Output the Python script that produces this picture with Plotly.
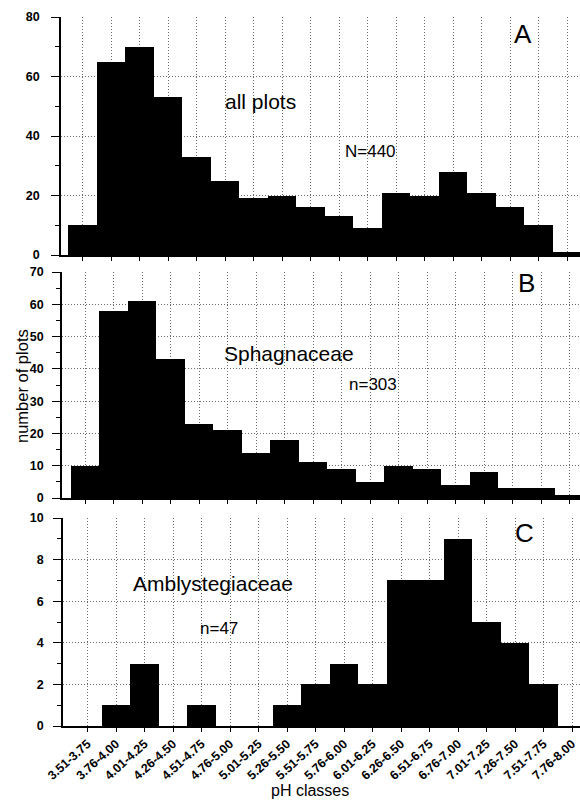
import plotly.graph_objects as go

categories = ["3.51-3.75", "3.76-4.00", "4.01-4.25", "4.26-4.50", "4.51-4.75",
              "4.76-5.00", "5.01-5.25", "5.26-5.50", "5.51-5.75", "5.76-6.00",
              "6.01-6.25", "6.26-6.50", "6.51-6.75", "6.76-7.00", "7.01-7.25",
              "7.26-7.50", "7.51-7.75", "7.76-8.00"]
all_plots = [10, 65, 70, 53, 33, 25, 19, 20, 16, 13, 9, 21, 20, 28, 21, 16, 10, 1]
sphagnaceae = [10, 58, 61, 43, 23, 21, 14, 18, 11, 9, 5, 10, 9, 4, 8, 3, 3, 1]
amblystegiaceae = [0, 1, 3, 0, 1, 0, 0, 1, 2, 3, 2, 7, 7, 9, 5, 4, 2, 0]

FONT = "Liberation Sans, Arial, sans-serif"
W, H = 580, 800
CAT_W = 28.5  # pixel width of one category


def fy(pix):
    return (H - pix) / H


def fx(pix):
    return pix / W


panels = [
    dict(vals=all_plots, top=17, bot=255, axis_x=61, c0=82.5, rng=[0, 80], dtick=20, minor=10, stand=9),
    dict(vals=sphagnaceae, top=272, bot=498, axis_x=62, c0=85.2, rng=[0, 70], dtick=10, minor=5, stand=6),
    dict(vals=amblystegiaceae, top=518, bot=726, axis_x=63, c0=87.5, rng=[0, 10], dtick=2, minor=1, stand=7),
]

GRID = "#6a6a6a"
fig = go.Figure()
layout = {}
for i, p in enumerate(panels, start=1):
    suf = "" if i == 1 else str(i)
    fig.add_trace(go.Bar(x=categories, y=p["vals"], xaxis="x" + suf, yaxis="y" + suf,
                         marker=dict(color="black", line=dict(width=0)), showlegend=False))
    left = -(p["c0"] - p["axis_x"]) / CAT_W
    right = (W - p["c0"]) / CAT_W
    layout["xaxis" + suf] = dict(
        domain=[fx(p["axis_x"]), 1], anchor="y" + suf, type="category", automargin=False,
        range=[left, right], showgrid=True, gridcolor=GRID, griddash="1px,2px", gridwidth=1,
        showline=True, linecolor="black", linewidth=1.5,
        ticks="outside", ticklen=4, tickcolor="black", tickwidth=1.2,
        showticklabels=(i == 3), tickangle=-42,
        tickfont=dict(family=FONT, size=12.5, color="black", weight="bold"),
        categoryorder="array", categoryarray=categories, zeroline=False,
    )
    layout["yaxis" + suf] = dict(
        domain=[fy(p["bot"]), fy(p["top"])], anchor="x" + suf, automargin=False,
        range=p["rng"], dtick=p["dtick"], showgrid=True, gridcolor=GRID,
        griddash="1px,2px", gridwidth=1, showline=True, linecolor="black", linewidth=1.5,
        ticks="outside", ticklen=8, tickcolor="black", tickwidth=1.2,
        minor=dict(dtick=p["minor"], ticks="outside", ticklen=4, tickcolor="black", showgrid=False),
        tickfont=dict(family=FONT, size=12.5, color="black", weight="bold"),
        zeroline=False, ticklabelstandoff=p["stand"],
    )

annots = [
    ("all plots", 260, 102, 21),
    ("N=440", 370, 152, 17),
    ("A", 523, 34, 26),
    ("Sphagnaceae", 289, 353, 21),
    ("n=303", 373, 385, 17),
    ("B", 526, 283, 26),
    ("Amblystegiaceae", 213, 583, 21),
    ("n=47", 219, 628, 17),
    ("C", 524, 533, 26),
]
ann_list = []
for txt, x, y, s in annots:
    ann_list.append(dict(text=txt, x=fx(x), y=fy(y), xref="paper", yref="paper",
                         showarrow=False, xanchor="center", yanchor="middle",
                         font=dict(family=FONT, size=s, color="black")))
ann_list.append(dict(text="number of plots", x=fx(22), y=fy(386), xref="paper", yref="paper",
                     showarrow=False, textangle=-90, xanchor="center", yanchor="middle",
                     font=dict(family=FONT, size=16.5, color="black")))
ann_list.append(dict(text="pH classes", x=fx(310), y=fy(790), xref="paper", yref="paper",
                     showarrow=False, xanchor="center", yanchor="middle",
                     font=dict(family=FONT, size=16, color="black")))

fig.update_layout(
    width=W, height=H, margin=dict(l=0, r=0, t=0, b=0, autoexpand=False),
    paper_bgcolor="white", plot_bgcolor="white", bargap=0,
    annotations=ann_list, **layout,
)
fig.write_html("out.html")
